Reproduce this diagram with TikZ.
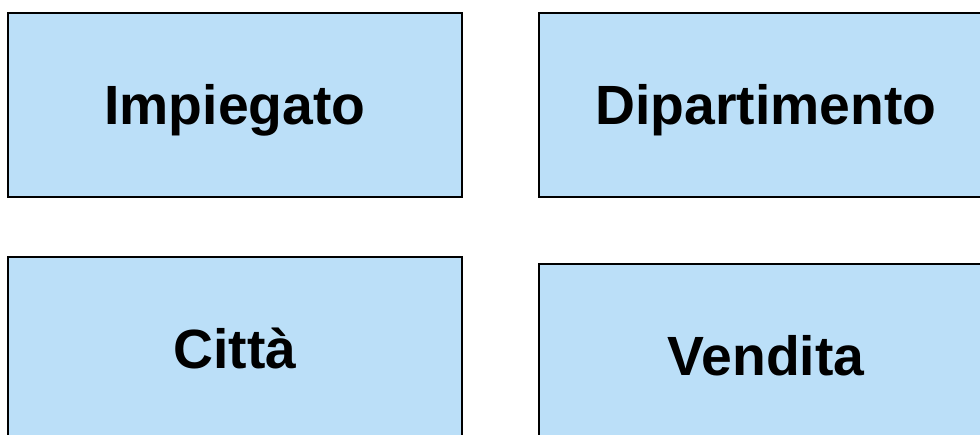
\documentclass[tikz,border=0pt]{standalone}
\usepackage{fontspec}
\setmainfont{Liberation Sans}
\usepackage{tikz}
\definecolor{azzurro}{RGB}{187,223,248}

\begin{document}
\begin{tikzpicture}[x=1pt,y=-1pt]
  \tikzstyle{entita}=[draw=black,line width=1.3pt,fill=azzurro,
    minimum width=454pt,minimum height=184pt,inner sep=0pt,
    text height=39.4pt,text depth=0pt,
    font=\fontsize{55.3}{60}\selectfont\bfseries]
  % Cornice (l'immagine taglia i riquadri in basso e a destra)
  \useasboundingbox (0,0) rectangle (980,435);
  \clip (0,0) rectangle (980,435);
  % Riquadri in alto
  \node[entita] (imp) at (235,105) {Impiegato};
  \node[entita] (dip) at (766,105) {Dipartimento};
  % Riquadri in basso
  \node[entita] (cit) at (235,349) {Città};
  \node[entita] (ven) at (766,356) {Vendita};
\end{tikzpicture}
\end{document}
